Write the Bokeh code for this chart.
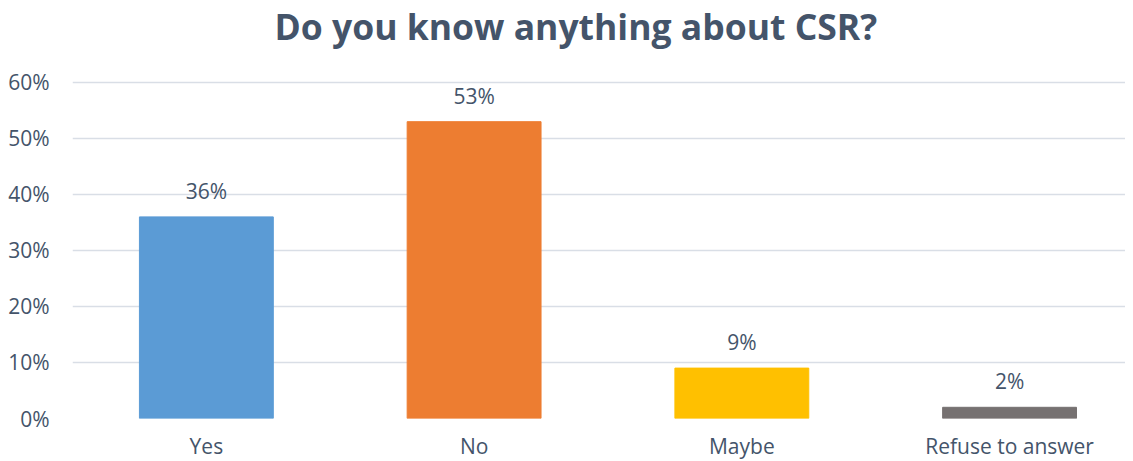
from bokeh.plotting import figure
from bokeh.models import ColumnDataSource, NumeralTickFormatter, FixedTicker, Range1d, Label
from bokeh.embed import file_html
from bokeh.resources import INLINE

categories = ["Yes", "No", "Maybe", "Refuse to answer"]
values = [0.36, 0.53, 0.09, 0.02]
colors = ["#5B9BD5", "#ED7D31", "#FFC000", "#767171"]
labels = ["36%", "53%", "9%", "2%"]
y_ticks = [0, 0.1, 0.2, 0.3, 0.4, 0.5, 0.6]
title = "Do you know anything about CSR?"

TXT = "#44546A"
FONT = "Open Sans"

xpos = [i + 0.5 for i in range(len(categories))]
src = ColumnDataSource(dict(x=xpos, val=values, color=colors, lab=labels))

# frame extends to the top of the canvas; the top of the y range leaves room for the title
p = figure(x_range=Range1d(0, 3.933), y_range=Range1d(0, 0.7321),
           frame_width=1053, frame_height=410, output_backend="svg", toolbar_location=None,
           min_border_left=72, min_border_right=0, min_border_bottom=35, min_border_top=8)

p.vbar(x="x", top="val", width=0.5, color="color", source=src)
p.text(x="x", y="val", text="lab", source=src, text_align="center", text_baseline="bottom",
       y_offset=-12, text_color=TXT, text_font_size="21px", text_font={"value": FONT})

p.add_layout(Label(x=1.88, y=0.70, text=title, text_align="center", text_baseline="alphabetic",
                   text_font=FONT, text_font_size="35.5px", text_font_style="bold", text_color=TXT))

p.outline_line_color = None
p.background_fill_color = "white"
p.border_fill_color = "white"

p.xgrid.grid_line_color = None
p.ygrid.grid_line_color = "#D9DEE6"
p.ygrid.grid_line_width = 1.5
p.yaxis.ticker = FixedTicker(ticks=y_ticks)
p.yaxis.formatter = NumeralTickFormatter(format="0%")
p.xaxis.ticker = FixedTicker(ticks=xpos)
p.xaxis.major_label_overrides = {x: c for x, c in zip(xpos, categories)}

for ax in (p.xaxis[0], p.yaxis[0]):
    ax.axis_line_color = None
    ax.major_tick_line_color = None
    ax.minor_tick_line_color = None
    ax.major_label_text_color = TXT
    ax.major_label_text_font = FONT
    ax.major_label_text_font_size = "21px"
p.yaxis.major_label_standoff = 17
p.xaxis.major_label_standoff = 7

open("out.html", "w").write(file_html(p, INLINE))
